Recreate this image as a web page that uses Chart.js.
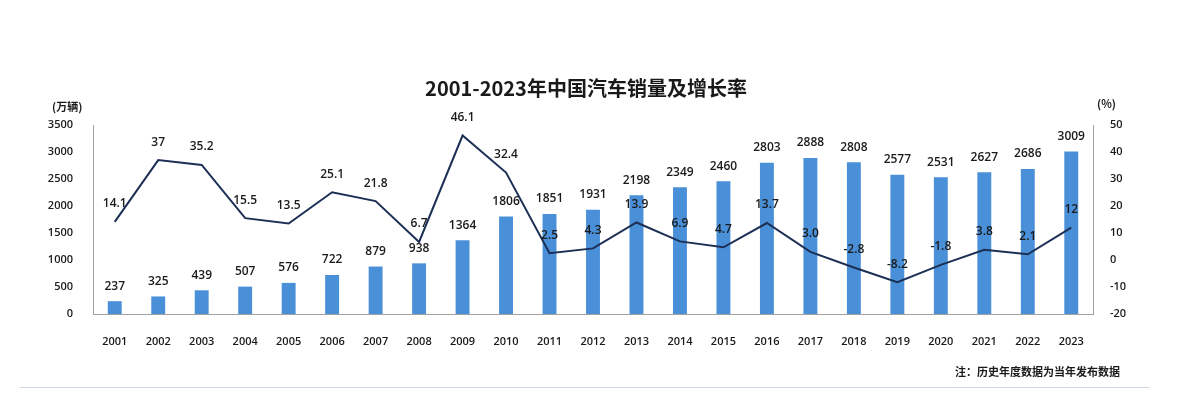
<!DOCTYPE html>
<html>
<head>
<meta charset="utf-8">
<script src="https://cdn.jsdelivr.net/npm/chart.js@4.4.0/dist/chart.umd.min.js"></script>
<style>
  html,body{margin:0;padding:0;background:#fff;}
  #wrap{position:relative;width:1184px;height:406px;overflow:hidden;background:#fff;}
  canvas{position:absolute;left:0;top:0;}
  .txt{position:absolute;font-family:"Noto Sans CJK SC","Noto Sans",sans-serif;color:#1a1a1a;white-space:nowrap;}
  #title{left:0;width:1172px;top:74px;text-align:center;font-size:20px;font-weight:bold;line-height:28px;}
  #unitL{left:52px;top:98px;font-size:11px;font-weight:bold;}
  #unitR{left:1097px;top:95px;font-size:11px;font-weight:bold;}
  #note{right:64px;top:363px;font-size:11px;font-weight:bold;}
  #sep{position:absolute;left:20px;width:1130px;top:387px;height:1px;background:#cfd9e4;}
</style>
</head>
<body>
<div id="wrap">
  <canvas id="c" width="1184" height="406"></canvas>
  <div class="txt" id="title">2001-2023年中国汽车销量及增长率</div>
  <div class="txt" id="unitL">(万辆)</div>
  <div class="txt" id="unitR">(%)</div>
  <div class="txt" id="note">注：历史年度数据为当年发布数据</div>
  <div id="sep"></div>
</div>
<script>
const years = ["2001","2002","2003","2004","2005","2006","2007","2008","2009","2010","2011","2012","2013","2014","2015","2016","2017","2018","2019","2020","2021","2022","2023"];
const sales = [237,325,439,507,576,722,879,938,1364,1806,1851,1931,2198,2349,2460,2803,2888,2808,2577,2531,2627,2686,3009];
const growth = [14.1,37,35.2,15.5,13.5,25.1,21.8,6.7,46.1,32.4,2.5,4.3,13.9,6.9,4.7,13.7,3.0,-2.8,-8.2,-1.8,3.8,2.1,12];
const growthLabels = ["14.1","37","35.2","15.5","13.5","25.1","21.8","6.7","46.1","32.4","2.5","4.3","13.9","6.9","4.7","13.7","3.0","-2.8","-8.2","-1.8","3.8","2.1","12"];
const leftTicks = [0,500,1000,1500,2000,2500,3000,3500];
const rightTicks = [-20,-10,0,10,20,30,40,50];

const labelPlugin = {
  id:'valueLabels',
  afterDatasetsDraw(chart){
    const ctx = chart.ctx;
    ctx.save();
    ctx.textAlign='center';
    ctx.textBaseline='middle';
    ctx.fillStyle='#1a1a1a';
    ctx.font='600 12px "Open Sans","Noto Sans",sans-serif';
    const barMeta = chart.getDatasetMeta(1);
    barMeta.data.forEach((el,i)=>{
      ctx.fillText(String(sales[i]), el.x, el.y-15);
    });
    const lineMeta = chart.getDatasetMeta(0);
    lineMeta.data.forEach((el,i)=>{
      ctx.fillText(growthLabels[i], el.x, el.y-18);
    });
    ctx.restore();
  }
};

const tickFont = {family:'"Open Sans","Noto Sans",sans-serif', size:11, weight:'600'};

new Chart(document.getElementById('c'), {
  data:{
    labels: years,
    datasets:[
      {type:'line', label:'增长率', data:growth, yAxisID:'y1', borderColor:'#1c2f55', borderWidth:2, pointRadius:0, tension:0, order:0},
      {type:'bar', label:'销量', data:sales, yAxisID:'y', backgroundColor:'#4a90d9', barPercentage:0.32, categoryPercentage:1, order:1}
    ]
  },
  options:{
    responsive:false,
    animation:false,
    devicePixelRatio:1,
    layout:{padding:{top:125,left:0,right:0,bottom:0}},
    plugins:{legend:{display:false}, tooltip:{enabled:false}, title:{display:false}},
    scales:{
      x:{
        grid:{display:false},
        border:{display:true,color:'#a0a0a0',width:1},
        ticks:{font:tickFont, color:'#1a1a1a', padding:13, maxRotation:0, autoSkip:false},
        afterFit(s){s.height=92;}
      },
      y:{
        position:'left', min:0, max:3500,
        afterBuildTicks(s){s.ticks = leftTicks.map(v=>({value:v}));},
        grid:{display:false},
        border:{display:true,color:'#a0a0a0',width:1},
        ticks:{font:tickFont, color:'#1a1a1a', padding:12, callback:(v)=>String(v)},
        afterFit(s){s.width=93;}
      },
      y1:{
        position:'right', min:-20, max:50,
        afterBuildTicks(s){s.ticks = rightTicks.map(v=>({value:v}));},
        grid:{display:false},
        border:{display:true,color:'#a0a0a0',width:1},
        ticks:{font:tickFont, color:'#1a1a1a', padding:9, callback:(v)=>String(v)},
        afterFit(s){s.width=91;}
      }
    }
  },
  plugins:[labelPlugin]
});
</script>
</body>
</html>
